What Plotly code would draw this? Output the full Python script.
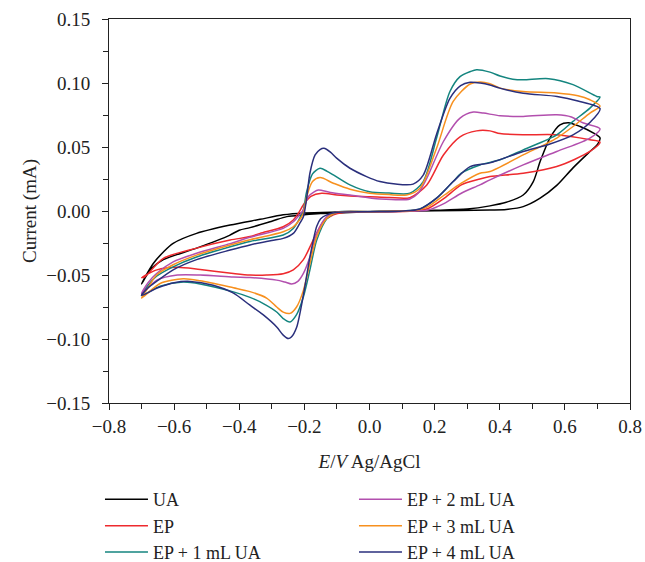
import plotly.graph_objects as go

# ---------------- data (potential V, current mA) ----------------
ua_x = [-0.700, -0.690, -0.664, -0.633, -0.603, -0.531, -0.428, -0.336, -0.265, -0.200, -0.100, 0.000, 0.100, 0.200, 0.300, 0.370, 0.420, 0.472, 0.503, 0.524, 0.554, 0.585, 0.611, 0.647, 0.687, 0.708,
        0.700, 0.677, 0.625, 0.575, 0.524, 0.472, 0.420, 0.370, 0.200, 0.000, -0.100, -0.150, -0.200, -0.254, -0.300, -0.367, -0.400, -0.430, -0.531, -0.633, -0.670, -0.700]
ua_y = [-0.057, -0.052, -0.041, -0.032, -0.0253, -0.0175, -0.011, -0.0065, -0.003, -0.0015, -0.0008, -0.0004, 0.0000, 0.0005, 0.0015, 0.004, 0.0068, 0.0125, 0.023, 0.0386, 0.057, 0.0673, 0.069, 0.066, 0.061, 0.057,
        0.052, 0.0465, 0.0337, 0.020, 0.010, 0.0034, 0.0012, 0.0008, 0.0002, -0.0008, -0.0015, -0.002, -0.003, -0.0044, -0.008, -0.013, -0.015, -0.019, -0.029, -0.038, -0.045, -0.057]

ep_x = [-0.700, -0.690, -0.633, -0.531, -0.428, -0.367, -0.336, -0.265, -0.234, -0.219, -0.200, -0.180, -0.147, -0.100, -0.060, 0.001, 0.060, 0.124, 0.176, 0.227, 0.278, 0.329, 0.370, 0.401, 0.472, 0.575, 0.677, 0.708,
        0.677, 0.575, 0.472, 0.370, 0.339, 0.282, 0.230, 0.180, 0.130, 0.000, -0.080, -0.111, -0.142, -0.173, -0.203, -0.234, -0.265, -0.316, -0.367, -0.418, -0.520, -0.592, -0.653, -0.700]
ep_y = [-0.052, -0.0514, -0.037, -0.029, -0.0227, -0.020, -0.0175, -0.0123, -0.007, -0.002, 0.006, 0.0115, 0.0139, 0.0125, 0.0117, 0.0112, 0.0106, 0.0104, 0.0204, 0.0438, 0.058, 0.0626, 0.0626, 0.0605, 0.0595, 0.0595, 0.0556, 0.0538,
        0.0465, 0.0347, 0.0295, 0.0269, 0.025, 0.0204, 0.010, 0.002, 0.000, -0.0008, -0.0012, -0.003, -0.0084, -0.0227, -0.038, -0.046, -0.049, -0.050, -0.050, -0.0488, -0.0457, -0.044, -0.046, -0.052]

ep1_x = [-0.700, -0.680, -0.654, -0.603, -0.531, -0.428, -0.367, -0.265, -0.234, -0.215, -0.203, -0.193, -0.175, -0.152, -0.130, -0.111, -0.060, 0.000, 0.060, 0.124, 0.165, 0.206, 0.247, 0.278, 0.310, 0.329, 0.370, 0.401, 0.440, 0.472, 0.550, 0.625, 0.698, 0.708,
         0.677, 0.625, 0.575, 0.472, 0.401, 0.339, 0.282, 0.257, 0.206, 0.155, 0.100, 0.000, -0.100, -0.131, -0.162, -0.183, -0.203, -0.224, -0.244, -0.265, -0.285, -0.326, -0.367, -0.418, -0.520, -0.572, -0.643, -0.700]
ep1_y = [-0.066, -0.058, -0.051, -0.0436, -0.036, -0.028, -0.0238, -0.0188, -0.0136, -0.006, 0.001, 0.015, 0.029, 0.0334, 0.031, 0.0282, 0.0204, 0.0150, 0.0140, 0.0139, 0.023, 0.057, 0.0934, 0.105, 0.109, 0.1104, 0.1085, 0.1055, 0.1030, 0.1025, 0.1034, 0.0987, 0.0895, 0.089,
         0.0804, 0.070, 0.0595, 0.0478, 0.040, 0.036, 0.0295, 0.023, 0.010, 0.0016, 0.000, -0.0005, -0.001, -0.006, -0.0227, -0.046, -0.067, -0.081, -0.0867, -0.084, -0.0789, -0.0723, -0.0675, -0.0632, -0.057, -0.0555, -0.0587, -0.066]

ep2_x = [-0.700, -0.680, -0.654, -0.603, -0.531, -0.428, -0.367, -0.265, -0.234, -0.215, -0.203, -0.188, -0.170, -0.157, -0.120, -0.060, 0.032, 0.124, 0.150, 0.176, 0.227, 0.278, 0.319, 0.350, 0.401, 0.472, 0.575, 0.620, 0.657, 0.708,
         0.677, 0.575, 0.472, 0.370, 0.339, 0.282, 0.230, 0.180, 0.100, 0.000, -0.100, -0.131, -0.162, -0.183, -0.203, -0.220, -0.239, -0.260, -0.285, -0.367, -0.418, -0.520, -0.590, -0.653, -0.700]
ep2_y = [-0.0645, -0.056, -0.0488, -0.0397, -0.033, -0.0255, -0.0205, -0.0136, -0.0084, -0.003, 0.0008, 0.0112, 0.015, 0.0164, 0.0145, 0.0125, 0.0094, 0.0094, 0.014, 0.0256, 0.0543, 0.0726, 0.0773, 0.0765, 0.0744, 0.0739, 0.0752, 0.0735, 0.0687, 0.0642,
         0.057, 0.0465, 0.036, 0.0243, 0.0204, 0.0139, 0.006, 0.0008, -0.0002, -0.0006, -0.001, -0.0044, -0.0175, -0.036, -0.0488, -0.055, -0.057, -0.0555, -0.054, -0.052, -0.0515, -0.050, -0.050, -0.054, -0.0645]

ep3_x = [-0.700, -0.680, -0.654, -0.603, -0.531, -0.428, -0.367, -0.265, -0.234, -0.215, -0.203, -0.193, -0.175, -0.152, -0.111, -0.060, 0.000, 0.060, 0.114, 0.155, 0.206, 0.257, 0.309, 0.339, 0.370, 0.401, 0.472, 0.575, 0.640, 0.677, 0.708,
         0.677, 0.625, 0.575, 0.472, 0.370, 0.339, 0.282, 0.230, 0.180, 0.150, 0.100, 0.000, -0.100, -0.131, -0.162, -0.183, -0.203, -0.224, -0.244, -0.265, -0.285, -0.316, -0.367, -0.418, -0.520, -0.572, -0.643, -0.700]
ep3_y = [-0.068, -0.060, -0.050, -0.042, -0.0345, -0.0266, -0.0225, -0.0162, -0.0123, -0.007, -0.0018, 0.011, 0.023, 0.0261, 0.0217, 0.017, 0.0139, 0.0128, 0.0125, 0.0178, 0.049, 0.0856, 0.0992, 0.1008, 0.0995, 0.096, 0.0934, 0.0922, 0.090, 0.0869, 0.082,
         0.0765, 0.066, 0.057, 0.0438, 0.0308, 0.0295, 0.0217, 0.0125, 0.0034, 0.0008, 0.000, -0.0005, -0.001, -0.0057, -0.020, -0.041, -0.062, -0.075, -0.080, -0.079, -0.075, -0.068, -0.063, -0.060, -0.0545, -0.053, -0.0566, -0.068]

ep4_x = [-0.700, -0.680, -0.654, -0.603, -0.531, -0.428, -0.367, -0.300, -0.265, -0.234, -0.215, -0.203, -0.193, -0.183, -0.167, -0.152, -0.140, -0.120, -0.101, -0.060, -0.009, 0.032, 0.080, 0.134, 0.165, 0.206, 0.247, 0.280, 0.309, 0.340, 0.370, 0.400, 0.472, 0.576, 0.640, 0.708,
         0.680, 0.625, 0.550, 0.472, 0.370, 0.309, 0.257, 0.206, 0.155, 0.103, 0.000, -0.100, -0.131, -0.150, -0.162, -0.183, -0.204, -0.224, -0.240, -0.249, -0.265, -0.285, -0.327, -0.367, -0.419, -0.480, -0.551, -0.600, -0.650, -0.700]
ep4_y = [-0.066, -0.060, -0.055, -0.046, -0.038, -0.0305, -0.0265, -0.023, -0.0214, -0.0175, -0.010, -0.0044, 0.010, 0.0295, 0.0438, 0.048, 0.049, 0.046, 0.0413, 0.0334, 0.0269, 0.023, 0.021, 0.021, 0.028, 0.060, 0.088, 0.098, 0.1005, 0.100, 0.0985, 0.096, 0.092, 0.0895, 0.086, 0.080,
         0.070, 0.0595, 0.052, 0.0465, 0.0376, 0.0347, 0.023, 0.010, 0.0016, 0.000, -0.0005, -0.001, -0.003, -0.006, -0.012, -0.036, -0.067, -0.091, -0.0985, -0.0997, -0.097, -0.0906, -0.081, -0.0736, -0.064, -0.058, -0.055, -0.056, -0.060, -0.066]

series_names = ["UA", "EP", "EP + 1 mL UA", "EP + 2 mL UA", "EP + 3 mL UA", "EP + 4 mL UA"]
series_x = [ua_x, ep_x, ep1_x, ep2_x, ep3_x, ep4_x]
series_y = [ua_y, ep_y, ep1_y, ep2_y, ep3_y, ep4_y]
series_colors = ["#000000", "#ee2a2e", "#14857f", "#b24fae", "#f7901e", "#2a2f7c"]
legend_ranks = [1, 3, 5, 2, 4, 6]

x_ticks = [-0.8, -0.6, -0.4, -0.2, 0.0, 0.2, 0.4, 0.6, 0.8]
y_ticks = [-0.15, -0.10, -0.05, 0.00, 0.05, 0.10, 0.15]

FONT = "Liberation Serif, Times New Roman, serif"

fig = go.Figure()
for name, xs, ys, col, rk in zip(series_names, series_x, series_y, series_colors, legend_ranks):
    fig.add_trace(go.Scatter(
        x=xs, y=ys, mode="lines", name=name, legendrank=rk,
        line=dict(color=col, width=1.5, shape="spline", smoothing=0.8),
    ))

axis_common = dict(
    showline=True, linecolor="#222", linewidth=1, mirror=True,
    showgrid=False, zeroline=False, automargin=False,
    ticks="outside", ticklen=6, tickwidth=1, tickcolor="#222",
    tickfont=dict(family=FONT, size=19, color="#222"),
)

fig.update_xaxes(
    range=[-0.8, 0.8], tickvals=x_ticks, tickformat=".1f",
    minor=dict(dtick=0.1, tick0=-0.8, ticks="outside", ticklen=5, tickwidth=1, tickcolor="#222"),
    title=dict(text="<i>E</i>/<i>V</i> Ag/AgCl", font=dict(family=FONT, size=19, color="#222"), standoff=18),
    **axis_common,
)
fig.update_yaxes(
    range=[-0.15, 0.15], tickvals=y_ticks, tickformat=".2f", ticklabelstandoff=8,
    minor=dict(dtick=0.025, tick0=-0.15, ticks="outside", ticklen=5, tickwidth=1, tickcolor="#222"),
    title=dict(text="Current (mA)", font=dict(family=FONT, size=19, color="#222"), standoff=4),
    **axis_common,
)

fig.update_layout(
    width=645, height=562,
    margin=dict(l=109, r=15, t=19, b=159, autoexpand=False),
    paper_bgcolor="white", plot_bgcolor="white",
    font=dict(family=FONT, size=18, color="#222"),
    legend=dict(
        orientation="h", xref="container", yref="container",
        x=0.155, y=0.144, xanchor="left", yanchor="top",
        entrywidth=196, entrywidthmode="pixels",
        font=dict(family=FONT, size=18, color="#222"),
        tracegroupgap=0, itemwidth=43,
    ),
    showlegend=True,
)

fig.write_html(
    "out.html",
    config={"displayModeBar": False},
    post_script="document.body.style.margin='0';document.body.style.padding='0';document.body.style.overflow='hidden';",
)
